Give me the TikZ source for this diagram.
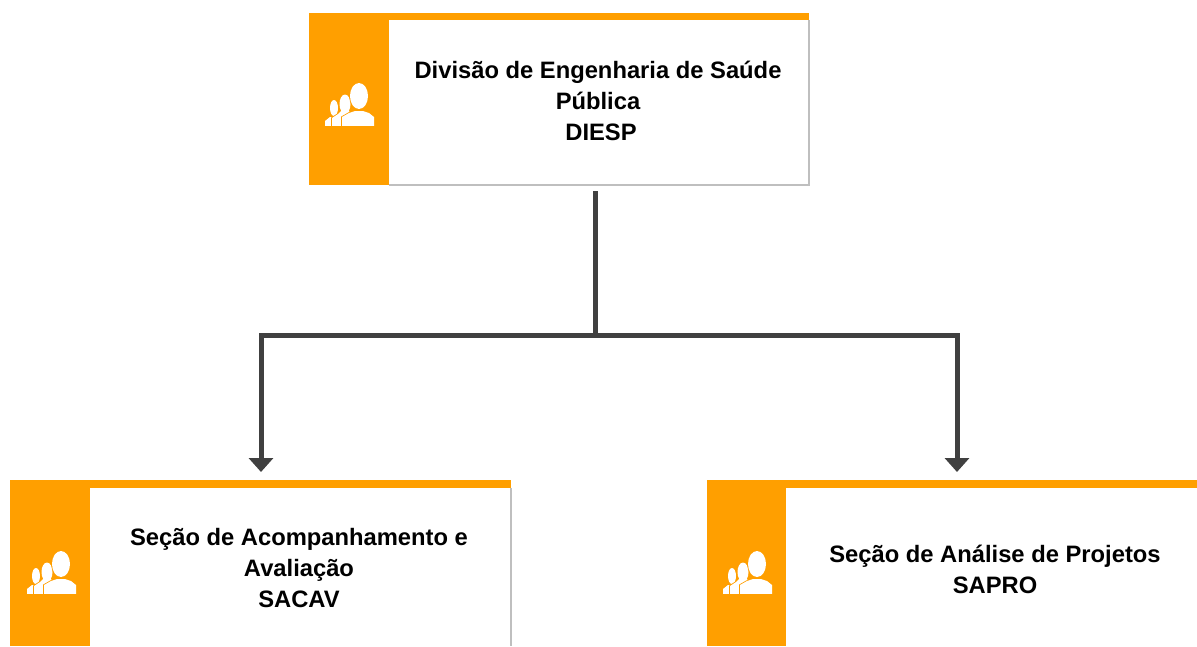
\documentclass[tikz,border=0pt]{standalone}
\usepackage{fontspec}
\setmainfont{Liberation Sans}
\usetikzlibrary{arrows.meta}
\definecolor{orangebar}{HTML}{FF9F00}
\definecolor{linegray}{HTML}{404040}
\definecolor{edgegray}{HTML}{BFBFBF}
\newcommand{\bigman}{(34,-30) ellipse (9 and 13) (17,0) -- (17,-9) -- (24,-13) -- (30,-15) -- (38,-15) -- (44,-13) -- (49,-9) -- (49,0) -- cycle}
\newcommand{\midman}{(20,-22) ellipse (5.5 and 9.5) (7,0) -- (7,-8) -- (13,-12) -- (16,-15) -- (24,-15) -- (27,-10) -- (27,0) -- cycle}
\newcommand{\smallman}{(9,-18) ellipse (4 and 8) (0,0) -- (0,-5) -- (5,-9) -- (12,-9) -- (15,-5) -- (15,0) -- cycle}
\tikzset{
  x=1pt,y=-1pt,
  cardbox/.style={rectangle,draw=none,fill=orangebar,anchor=north west,inner sep=0pt,outer sep=0pt},
  cardwhite/.style={rectangle,draw=none,fill=white,anchor=north west,inner sep=0pt,outer sep=0pt},
  cardlabel/.style={align=center,font=\fontsize{23.75}{31}\selectfont\bfseries,inner sep=0pt,text=black},
  link/.style={draw=linegray,line width=5pt},
  arrowlink/.style={link,-{Triangle[length=14pt,width=24pt]},shorten >=8pt},
  rim/.style={draw=edgegray,line width=1.2pt},
  persons/.pic={
    \fill[white] \smallman;
    \fill[orangebar,draw=orangebar,line width=1.6pt] \midman;
    \fill[white] \midman;
    \fill[orangebar,draw=orangebar,line width=1.6pt] \bigman;
    \fill[white] \bigman;
    \fill[orangebar] (-2,0) rectangle (51,3);
  }
}
\begin{document}
\begin{tikzpicture}
\useasboundingbox (0,0) rectangle (1197,646);
% top card
\node[cardbox,minimum width=500pt,minimum height=172pt] (top) at (309,13) {};
\node[cardwhite,minimum width=420pt,minimum height=165pt] (topw) at (389,20) {};
\draw[rim] (topw.north east) -- (topw.south east) -- (topw.south west);
\pic at (325,126) {persons};
\node[cardlabel] (toplabel) at (598,101) {Divisão de Engenharia de Saúde\\Pública\\\hspace*{6pt}DIESP};
% left card
\node[cardbox,minimum width=501pt,minimum height=166pt] (sacav) at (10,480) {};
\node[cardwhite,minimum width=421pt,minimum height=158pt] (sacavw) at (90,488) {};
\draw[rim] (sacavw.north east) -- (sacavw.south east);
\pic at (27,594) {persons};
\node[cardlabel] (sacavlabel) at (299,568) {Seção de Acompanhamento e\\Avaliação\\SACAV};
% right card
\node[cardbox,minimum width=500pt,minimum height=166pt] (sapro) at (707,480) {};
\node[cardwhite,minimum width=420pt,minimum height=158pt] (saprow) at (786,488) {};
\pic at (723,594) {persons};
\node[cardlabel] (saprolabel) at (995,569) {Seção de Análise de Projetos\\SAPRO};
% connectors
\coordinate (stem) at (595,191);
\coordinate (junction) at (595,335);
\coordinate (sacavin) at (261,480);
\coordinate (saproin) at (957,480);
\draw[link] (stem) -- (junction);
\draw[arrowlink] (junction) -| (sacavin);
\draw[arrowlink] (junction) -| (saproin);
\end{tikzpicture}
\end{document}
